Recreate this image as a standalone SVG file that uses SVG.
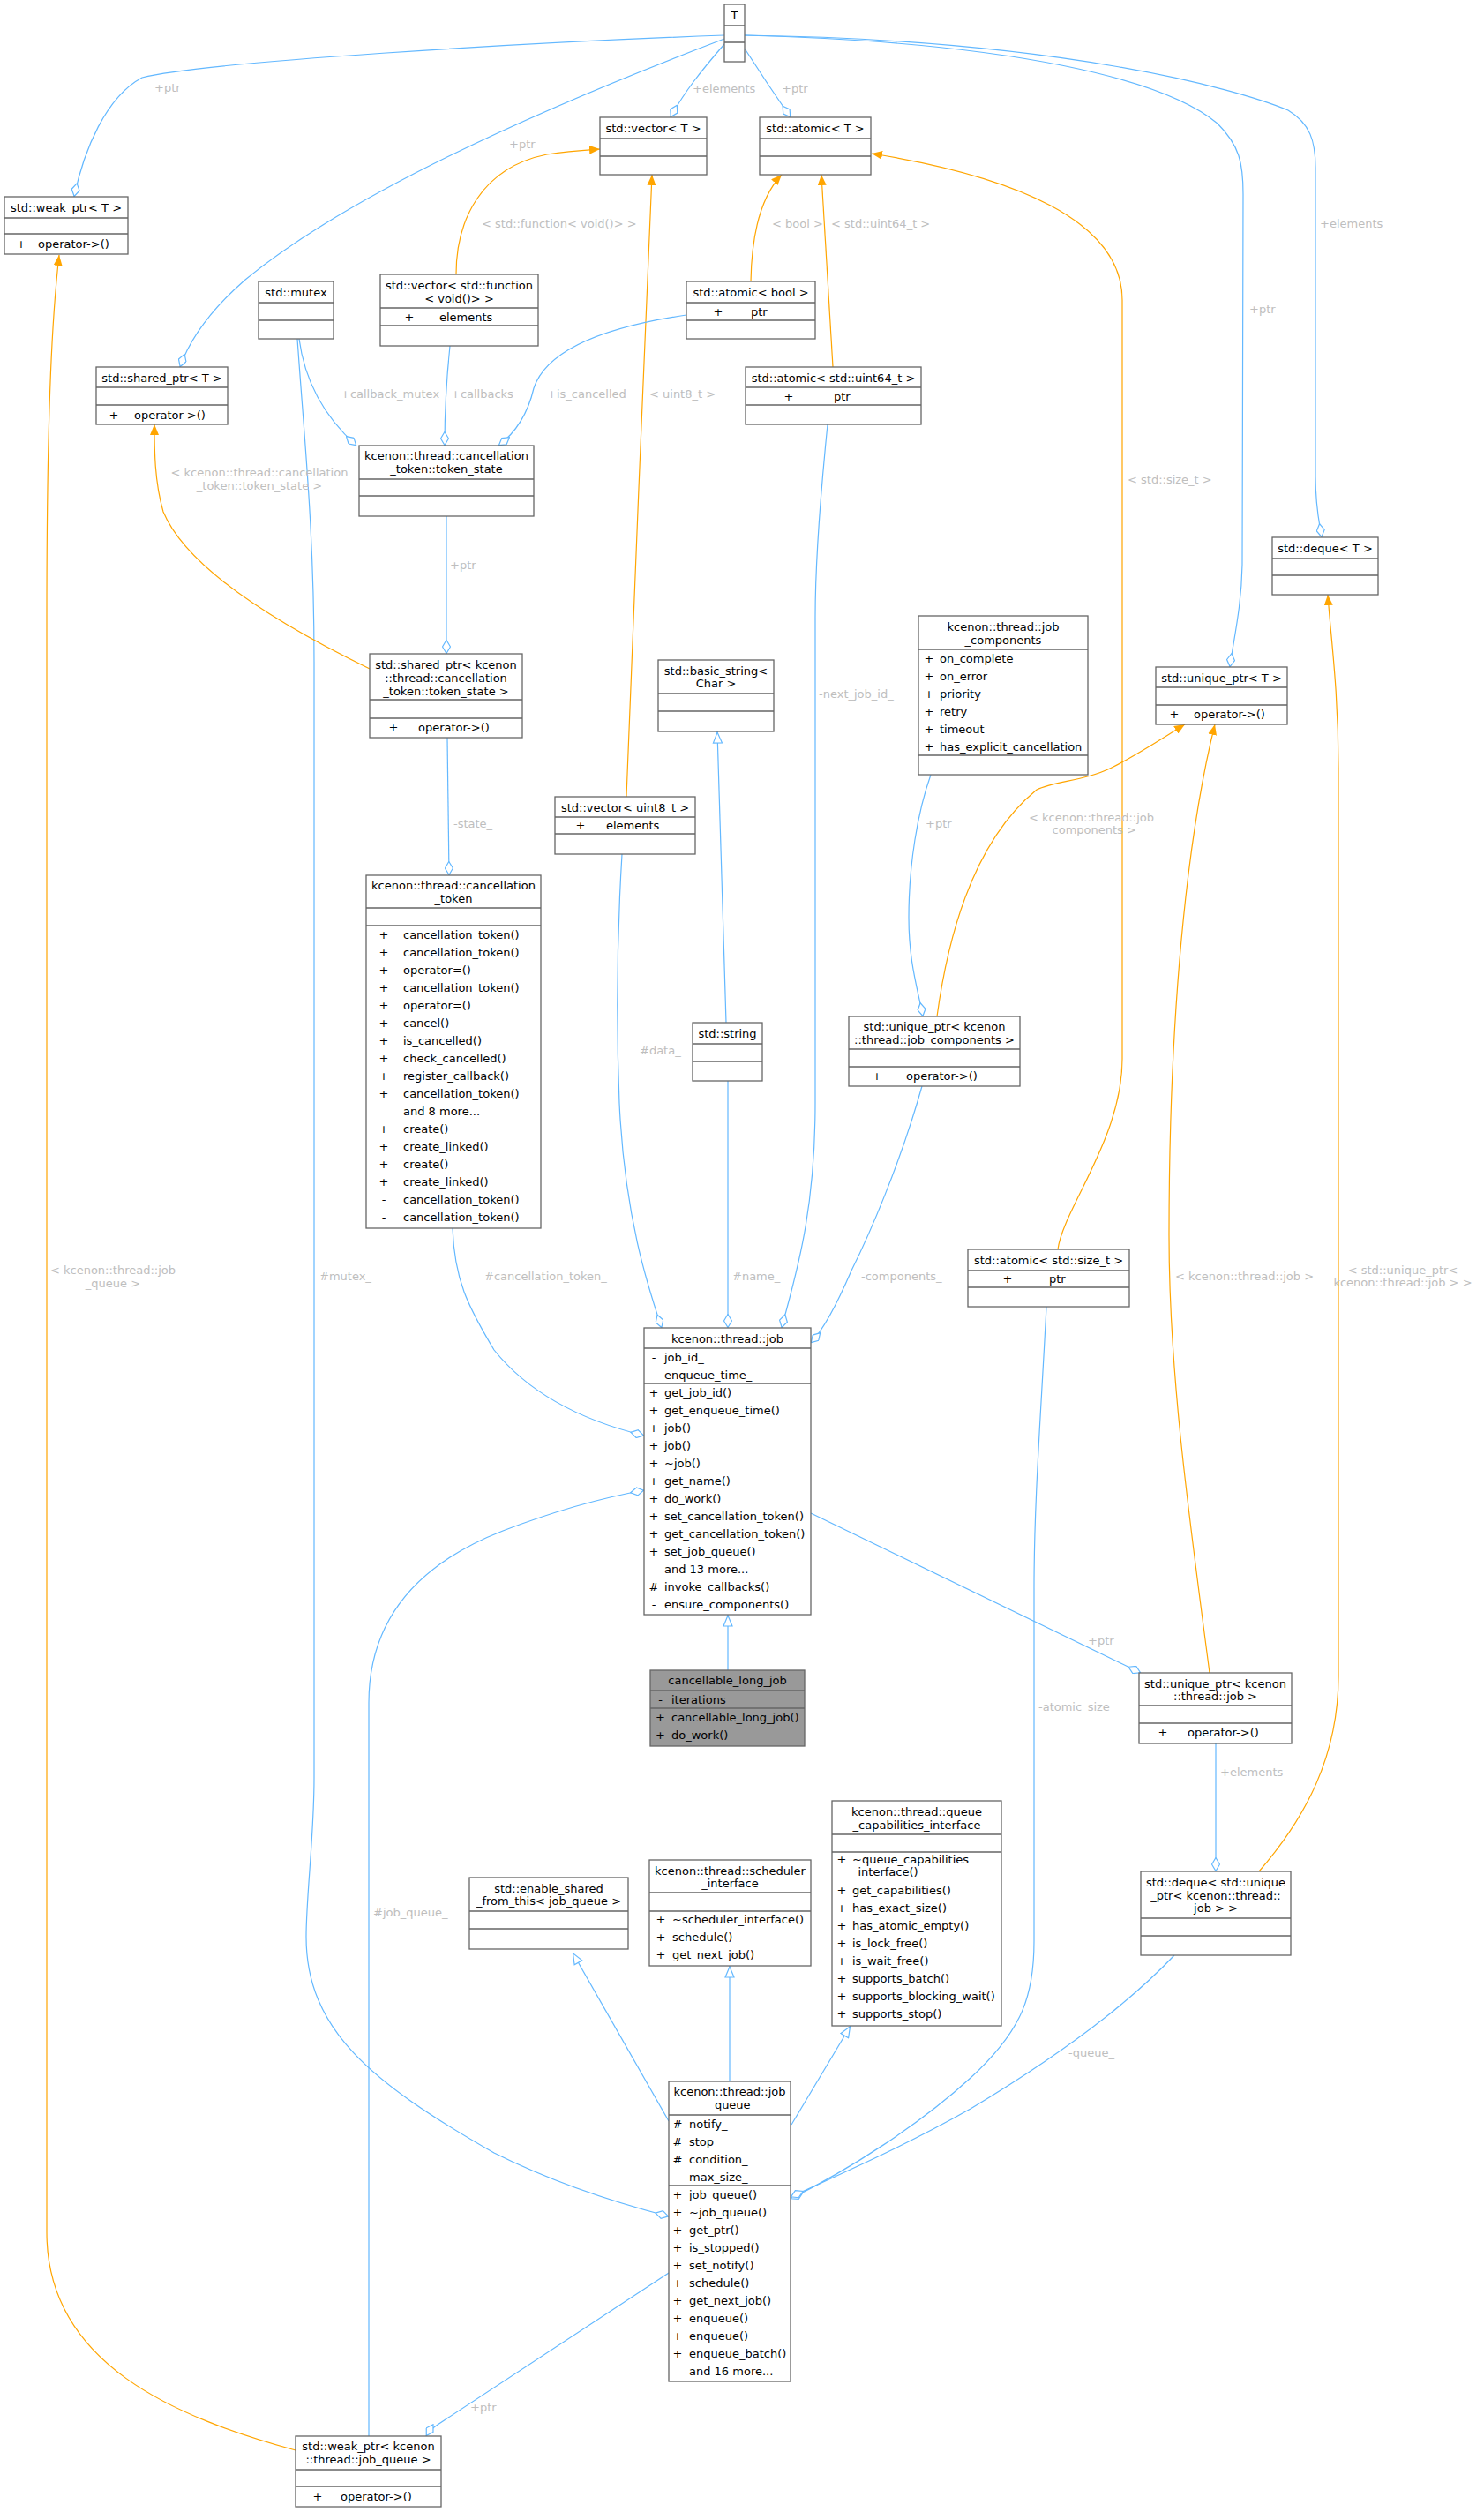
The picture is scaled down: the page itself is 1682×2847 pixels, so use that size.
<svg xmlns="http://www.w3.org/2000/svg" width="1682" height="2847" viewBox="0 0 1682 2847">
<style>
text{font-family:"DejaVu Sans","Liberation Sans",sans-serif;font-size:13px;fill:#000}
.t{text-anchor:middle}
.m{text-anchor:middle}
.l{fill:#bebebe}
.lc{fill:#bebebe;text-anchor:middle}
.n rect{fill:#fff;stroke:#666;stroke-width:1.3}
.n path{stroke:#666;stroke-width:1.3;fill:none}
.n rect.h{fill:#999}
#edges path{fill:none;stroke-width:1.2}
#edges .b{stroke:#63B8FF}
#edges .o{stroke:#FFA500}
</style>
<defs>
<marker id="d" viewBox="0 0 16 10" refX="16" refY="5" markerWidth="16" markerHeight="10" markerUnits="userSpaceOnUse" orient="auto"><path d="M0.5,5 L8,0.5 L15.5,5 L8,9.5Z" fill="#fff" stroke="#63B8FF" stroke-width="1.2"/></marker>
<marker id="a" viewBox="0 0 12 10" refX="12" refY="5" markerWidth="12" markerHeight="10" markerUnits="userSpaceOnUse" orient="auto"><path d="M0,0 L12,5 L0,10Z" fill="#FFA500"/></marker>
<marker id="tr" viewBox="0 0 14 12" refX="14" refY="6" markerWidth="14" markerHeight="12" markerUnits="userSpaceOnUse" orient="auto"><path d="M1,1 L13,6 L1,11Z" fill="#fff" stroke="#63B8FF" stroke-width="1.2"/></marker>
</defs>
<rect width="1682" height="2847" fill="#fff"/>
<g id="edges">
<path class="b" marker-end="url(#d)" d="M821,40 C600,48 230,70 161,88 C120,110 95,170 84,223"/>
<path class="b" marker-end="url(#d)" d="M821,44 C700,90 420,200 278,317 C240,350 215,385 204,416"/>
<path class="b" marker-end="url(#d)" d="M821,50 C795,80 775,105 760,133"/>
<path class="b" marker-end="url(#d)" d="M844,55 C860,80 880,110 896,133"/>
<path class="b" marker-end="url(#d)" d="M844,40 C1150,48 1320,90 1380,140 C1405,165 1409,185 1409,220 L1408,640 C1407,690 1398,725 1394,756"/>
<path class="b" marker-end="url(#d)" d="M844,40 C1200,45 1400,100 1460,125 C1485,140 1491,160 1491,190 L1491,540 C1491,575 1495,590 1498,609"/>
<path class="o" marker-end="url(#a)" d="M517,311 C517,250 545,190 620,175 C645,171 665,170 680,169"/>
<path class="o" marker-end="url(#a)" d="M710,903 C718,700 730,400 739,198"/>
<path class="o" marker-end="url(#a)" d="M851,319 C852,260 865,220 886,198"/>
<path class="o" marker-end="url(#a)" d="M944,416 L931,198"/>
<path class="o" marker-end="url(#a)" d="M1199,1416 C1205,1370 1272,1290 1272,1200 L1272,340 C1272,250 1150,200 988,174"/>
<path class="b" marker-end="url(#d)" d="M339,384 C345,430 365,470 404,505"/>
<path class="b" marker-end="url(#d)" d="M337,384 C345,500 356,600 356,750 L356,2015 C356,2080 347,2150 347,2195 C347,2300 420,2360 560,2440 C630,2475 700,2497 758,2512"/>
<path class="b" marker-end="url(#d)" d="M510,392 C506,430 504,470 504,505"/>
<path class="b" marker-end="url(#d)" d="M778,357 C690,370 620,395 605,440 C598,470 585,490 565,505"/>
<path class="b" marker-end="url(#d)" d="M506,585 L506,741"/>
<path class="o" marker-end="url(#a)" d="M419,758 C300,700 210,640 185,580 C175,545 175,510 175,481"/>
<path class="b" marker-end="url(#d)" d="M507,836 L509,992"/>
<path class="o" marker-end="url(#a)" d="M335,2777 C200,2740 53,2680 53,2530 L53,700 C53,450 60,350 67,289"/>
<path class="b" marker-end="url(#d)" d="M705,968 C700,1050 698,1150 702,1250 C708,1380 735,1460 750,1505"/>
<path class="b" marker-end="url(#d)" d="M825,1225 L825,1505"/>
<path class="b" marker-end="url(#tr)" d="M823,1159 L813,829"/>
<path class="b" marker-end="url(#d)" d="M938,481 C930,560 924,640 924,700 L924,1250 C924,1380 900,1450 886,1505"/>
<path class="b" marker-end="url(#d)" d="M1045,1231 C1020,1320 985,1400 965,1440 C950,1475 935,1505 919,1522"/>
<path class="b" marker-end="url(#d)" d="M1055,878 C1040,920 1030,980 1030,1040 C1030,1090 1040,1120 1046,1152"/>
<path class="o" marker-end="url(#a)" d="M1062,1152 C1080,1020 1120,940 1175,895 C1195,885 1230,885 1260,870 C1290,855 1320,835 1343,821"/>
<path class="b" marker-end="url(#d)" d="M513,1392 C515,1450 530,1480 560,1530 C600,1580 660,1610 730,1627"/>
<path class="b" marker-end="url(#tr)" d="M825,1893 L825,1830"/>
<path class="b" marker-end="url(#d)" d="M919,1715 L1293,1896"/>
<path class="b" marker-end="url(#d)" d="M418,2761 L418,1930 C418,1830 480,1770 570,1735 C630,1712 680,1698 730,1689"/>
<path class="b" marker-end="url(#d)" d="M758,2576 L496,2748 C490,2752 486,2756 483,2761"/>
<path class="b" marker-end="url(#tr)" d="M758,2404 L649,2213"/>
<path class="b" marker-end="url(#tr)" d="M827,2359 L827,2228"/>
<path class="b" marker-end="url(#tr)" d="M897,2408 L964,2296"/>
<path class="b" marker-end="url(#d)" d="M1186,1481 C1180,1600 1172,1700 1172,1800 L1172,2200 C1172,2260 1160,2300 1100,2355 C1040,2410 960,2460 896,2492"/>
<path class="b" marker-end="url(#d)" d="M1331,2216 C1280,2270 1200,2330 1100,2390 C1020,2435 950,2465 896,2490"/>
<path class="b" marker-end="url(#d)" d="M1378,1976 L1378,2121"/>
<path class="o" marker-end="url(#a)" d="M1371,1896 C1345,1700 1325,1550 1325,1400 C1325,1150 1345,950 1377,821"/>
<path class="o" marker-end="url(#a)" d="M1427,2121 C1480,2060 1517,1990 1517,1900 L1517,870 C1517,780 1508,720 1505,674"/>
<text class="l" x="175" y="104">+ptr</text>
<text class="l" x="577" y="168">+ptr</text>
<text class="l" x="785" y="105">+elements</text>
<text class="l" x="886" y="105">+ptr</text>
<text class="l" x="1416" y="355">+ptr</text>
<text class="l" x="1496" y="258">+elements</text>
<text class="l" x="546" y="258">&lt; std::function&lt; void()&gt; &gt;</text>
<text class="l" x="736" y="451">&lt; uint8_t &gt;</text>
<text class="l" x="875" y="258">&lt; bool &gt;</text>
<text class="l" x="942" y="258">&lt; std::uint64_t &gt;</text>
<text class="l" x="1278" y="548">&lt; std::size_t &gt;</text>
<text class="l" x="386" y="451">+callback_mutex</text>
<text class="l" x="362" y="1451">#mutex_</text>
<text class="l" x="511" y="451">+callbacks</text>
<text class="l" x="620" y="451">+is_cancelled</text>
<text class="l" x="510" y="645">+ptr</text>
<text class="lc" x="294" y="540">&lt; kcenon::thread::cancellation</text>
<text class="lc" x="294" y="555">_token::token_state &gt;</text>
<text class="l" x="514" y="938">-state_</text>
<text class="lc" x="128" y="1444">&lt; kcenon::thread::job</text>
<text class="lc" x="128" y="1459">_queue &gt;</text>
<text class="l" x="725" y="1195">#data_</text>
<text class="l" x="830" y="1451">#name_</text>
<text class="l" x="928" y="791">-next_job_id_</text>
<text class="l" x="976" y="1451">-components_</text>
<text class="l" x="1049" y="938">+ptr</text>
<text class="lc" x="1237" y="931">&lt; kcenon::thread::job</text>
<text class="lc" x="1237" y="945">_components &gt;</text>
<text class="l" x="549" y="1451">#cancellation_token_</text>
<text class="l" x="1233" y="1864">+ptr</text>
<text class="l" x="423" y="2172">#job_queue_</text>
<text class="l" x="533" y="2733">+ptr</text>
<text class="l" x="1177" y="1939">-atomic_size_</text>
<text class="l" x="1211" y="2331">-queue_</text>
<text class="l" x="1383" y="2013">+elements</text>
<text class="l" x="1332" y="1451">&lt; kcenon::thread::job &gt;</text>
<text class="lc" x="1590" y="1444">&lt; std::unique_ptr&lt;</text>
<text class="lc" x="1590" y="1458">kcenon::thread::job &gt; &gt;</text>
</g>
<g id="nT" class="n"><rect x="821" y="5" width="23" height="65"/><path d="M821,29H844M821,48H844"/><text class="t" x="832.5" y="22">T</text></g>
<g id="nVecT" class="n"><rect x="680" y="133" width="121" height="65"/><path d="M680,157H801M680,177H801"/><text class="t" x="740.5" y="150">std::vector&lt; T &gt;</text></g>
<g id="nAtomT" class="n"><rect x="861" y="133" width="126" height="65"/><path d="M861,157H987M861,177H987"/><text class="t" x="924" y="150">std::atomic&lt; T &gt;</text></g>
<g id="nWeakT" class="n"><rect x="5" y="223" width="140" height="65"/><path d="M5,247H145M5,265H145"/><text class="t" x="75" y="240">std::weak_ptr&lt; T &gt;</text><text class="m" x="24" y="281">+</text><text x="43" y="281">operator-&gt;()</text></g>
<g id="nMutex" class="n"><rect x="293" y="319" width="85" height="65"/><path d="M293,343H378M293,363H378"/><text class="t" x="335.5" y="336">std::mutex</text></g>
<g id="nVecFn" class="n"><rect x="431" y="311" width="179" height="81"/><path d="M431,349H610M431,369H610"/><text class="t" x="520.5" y="327.5">std::vector&lt; std::function</text><text class="t" x="520.5" y="342.5">&lt; void()&gt; &gt;</text><text class="m" x="464" y="363.5">+</text><text x="498" y="363.5">elements</text></g>
<g id="nAtomBool" class="n"><rect x="778" y="319" width="146" height="65"/><path d="M778,343H924M778,363H924"/><text class="t" x="851" y="336">std::atomic&lt; bool &gt;</text><text class="m" x="814" y="357.5">+</text><text x="851" y="357.5">ptr</text></g>
<g id="nSharedT" class="n"><rect x="109" y="416" width="149" height="65"/><path d="M109,439H258M109,459H258"/><text class="t" x="183.5" y="433">std::shared_ptr&lt; T &gt;</text><text class="m" x="129" y="474.5">+</text><text x="152" y="474.5">operator-&gt;()</text></g>
<g id="nAtomU64" class="n"><rect x="845" y="416" width="199" height="65"/><path d="M845,439H1044M845,459H1044"/><text class="t" x="944.5" y="433">std::atomic&lt; std::uint64_t &gt;</text><text class="m" x="894" y="453.5">+</text><text x="945" y="453.5">ptr</text></g>
<g id="nTokState" class="n"><rect x="407" y="505" width="198" height="80"/><path d="M407,543H605M407,562H605"/><text class="t" x="506" y="521">kcenon::thread::cancellation</text><text class="t" x="506" y="535.5">_token::token_state</text></g>
<g id="nSharedTok" class="n"><rect x="419" y="741" width="173" height="95"/><path d="M419,793H592M419,814H592"/><text class="t" x="505.5" y="758">std::shared_ptr&lt; kcenon</text><text class="t" x="505.5" y="772.5">::thread::cancellation</text><text class="t" x="505.5" y="787.5">_token::token_state &gt;</text><text class="m" x="446" y="829">+</text><text x="474" y="829">operator-&gt;()</text></g>
<g id="nCancelTok" class="n"><rect x="415" y="992" width="198" height="400"/><path d="M415,1029H613M415,1049H613"/><text class="t" x="514" y="1007.5">kcenon::thread::cancellation</text><text class="t" x="514" y="1022.5">_token</text>
<text class="m" x="435" y="1063.5">+</text><text x="457" y="1063.5">cancellation_token()</text>
<text class="m" x="435" y="1083.5">+</text><text x="457" y="1083.5">cancellation_token()</text>
<text class="m" x="435" y="1103.5">+</text><text x="457" y="1103.5">operator=()</text>
<text class="m" x="435" y="1123.5">+</text><text x="457" y="1123.5">cancellation_token()</text>
<text class="m" x="435" y="1143.5">+</text><text x="457" y="1143.5">operator=()</text>
<text class="m" x="435" y="1163.5">+</text><text x="457" y="1163.5">cancel()</text>
<text class="m" x="435" y="1183.5">+</text><text x="457" y="1183.5">is_cancelled()</text>
<text class="m" x="435" y="1203.5">+</text><text x="457" y="1203.5">check_cancelled()</text>
<text class="m" x="435" y="1223.5">+</text><text x="457" y="1223.5">register_callback()</text>
<text class="m" x="435" y="1243.5">+</text><text x="457" y="1243.5">cancellation_token()</text>
<text x="457" y="1263.5">and 8 more...</text>
<text class="m" x="435" y="1283.5">+</text><text x="457" y="1283.5">create()</text>
<text class="m" x="435" y="1303.5">+</text><text x="457" y="1303.5">create_linked()</text>
<text class="m" x="435" y="1323.5">+</text><text x="457" y="1323.5">create()</text>
<text class="m" x="435" y="1343.5">+</text><text x="457" y="1343.5">create_linked()</text>
<text class="m" x="435" y="1363.5">-</text><text x="457" y="1363.5">cancellation_token()</text>
<text class="m" x="435" y="1383.5">-</text><text x="457" y="1383.5">cancellation_token()</text></g>
<g id="nVecU8" class="n"><rect x="629" y="903" width="159" height="65"/><path d="M629,926H788M629,945H788"/><text class="t" x="708.5" y="920">std::vector&lt; uint8_t &gt;</text><text class="m" x="658" y="940">+</text><text x="687" y="940">elements</text></g>
<g id="nBasicStr" class="n"><rect x="746" y="748" width="131" height="81"/><path d="M746,786H877M746,806H877"/><text class="t" x="811.5" y="764.5">std::basic_string&lt;</text><text class="t" x="811.5" y="779">Char &gt;</text></g>
<g id="nString" class="n"><rect x="785" y="1159" width="79" height="66"/><path d="M785,1183H864M785,1203H864"/><text class="t" x="824.5" y="1176">std::string</text></g>
<g id="nJobComp" class="n"><rect x="1041" y="698" width="192" height="180"/><path d="M1041,736H1233M1041,856H1233"/><text class="t" x="1137" y="714.5">kcenon::thread::job</text><text class="t" x="1137" y="729.5">_components</text>
<text class="m" x="1053" y="750.5">+</text><text x="1065" y="750.5">on_complete</text>
<text class="m" x="1053" y="770.5">+</text><text x="1065" y="770.5">on_error</text>
<text class="m" x="1053" y="790.5">+</text><text x="1065" y="790.5">priority</text>
<text class="m" x="1053" y="810.5">+</text><text x="1065" y="810.5">retry</text>
<text class="m" x="1053" y="830.5">+</text><text x="1065" y="830.5">timeout</text>
<text class="m" x="1053" y="850.5">+</text><text x="1065" y="850.5">has_explicit_cancellation</text></g>
<g id="nUniqJC" class="n"><rect x="962" y="1152" width="194" height="79"/><path d="M962,1189H1156M962,1209H1156"/><text class="t" x="1059" y="1167.5">std::unique_ptr&lt; kcenon</text><text class="t" x="1059" y="1182.5">::thread::job_components &gt;</text><text class="m" x="994" y="1224">+</text><text x="1027" y="1224">operator-&gt;()</text></g>
<g id="nUniqT" class="n"><rect x="1310" y="756" width="149" height="65"/><path d="M1310,779H1459M1310,799H1459"/><text class="t" x="1384.5" y="772.5">std::unique_ptr&lt; T &gt;</text><text class="m" x="1331" y="814">+</text><text x="1353" y="814">operator-&gt;()</text></g>
<g id="nDequeT" class="n"><rect x="1442" y="609" width="120" height="65"/><path d="M1442,633H1562M1442,652H1562"/><text class="t" x="1502" y="626">std::deque&lt; T &gt;</text></g>
<g id="nAtomSize" class="n"><rect x="1097" y="1416" width="183" height="65"/><path d="M1097,1440H1280M1097,1459H1280"/><text class="t" x="1188.5" y="1432.5">std::atomic&lt; std::size_t &gt;</text><text class="m" x="1142" y="1454">+</text><text x="1189" y="1454">ptr</text></g>
<g id="nJob" class="n"><rect x="730" y="1505" width="189" height="325"/><path d="M730,1528H919M730,1568H919"/><text class="t" x="824.5" y="1521.5">kcenon::thread::job</text>
<text class="m" x="741" y="1542.5">-</text><text x="753" y="1542.5">job_id_</text>
<text class="m" x="741" y="1562.5">-</text><text x="753" y="1562.5">enqueue_time_</text>
<text class="m" x="741" y="1582.5">+</text><text x="753" y="1582.5">get_job_id()</text>
<text class="m" x="741" y="1602.5">+</text><text x="753" y="1602.5">get_enqueue_time()</text>
<text class="m" x="741" y="1622.5">+</text><text x="753" y="1622.5">job()</text>
<text class="m" x="741" y="1642.5">+</text><text x="753" y="1642.5">job()</text>
<text class="m" x="741" y="1662.5">+</text><text x="753" y="1662.5">~job()</text>
<text class="m" x="741" y="1682.5">+</text><text x="753" y="1682.5">get_name()</text>
<text class="m" x="741" y="1702.5">+</text><text x="753" y="1702.5">do_work()</text>
<text class="m" x="741" y="1722.5">+</text><text x="753" y="1722.5">set_cancellation_token()</text>
<text class="m" x="741" y="1742.5">+</text><text x="753" y="1742.5">get_cancellation_token()</text>
<text class="m" x="741" y="1762.5">+</text><text x="753" y="1762.5">set_job_queue()</text>
<text x="753" y="1782.5">and 13 more...</text>
<text class="m" x="741" y="1802.5">#</text><text x="753" y="1802.5">invoke_callbacks()</text>
<text class="m" x="741" y="1822.5">-</text><text x="753" y="1822.5">ensure_components()</text></g>
<g id="nCancellable" class="n"><rect class="h" x="737" y="1893" width="175" height="86"/><path d="M737,1916H912M737,1936H912"/><text class="t" x="824.5" y="1909">cancellable_long_job</text>
<text class="m" x="748.5" y="1930.5">-</text><text x="761" y="1930.5">iterations_</text>
<text class="m" x="748.5" y="1950.5">+</text><text x="761" y="1950.5">cancellable_long_job()</text>
<text class="m" x="748.5" y="1970.5">+</text><text x="761" y="1970.5">do_work()</text></g>
<g id="nUniqJob" class="n"><rect x="1291" y="1896" width="173" height="80"/><path d="M1291,1933H1464M1291,1953H1464"/><text class="t" x="1377.5" y="1912.5">std::unique_ptr&lt; kcenon</text><text class="t" x="1377.5" y="1926.5">::thread::job &gt;</text><text class="m" x="1318" y="1968">+</text><text x="1346" y="1968">operator-&gt;()</text></g>
<g id="nDequeUJ" class="n"><rect x="1293" y="2121" width="170" height="95"/><path d="M1293,2174H1463M1293,2194H1463"/><text class="t" x="1378" y="2137.5">std::deque&lt; std::unique</text><text class="t" x="1378" y="2152.5">_ptr&lt; kcenon::thread::</text><text class="t" x="1378" y="2167">job &gt; &gt;</text></g>
<g id="nQueueCap" class="n"><rect x="943" y="2041" width="192" height="255"/><path d="M943,2079H1135M943,2099H1135"/><text class="t" x="1039" y="2057.5">kcenon::thread::queue</text><text class="t" x="1039" y="2072.5">_capabilities_interface</text>
<text class="m" x="954" y="2111.5">+</text><text x="966" y="2111.5">~queue_capabilities</text>
<text x="966" y="2126">_interface()</text>
<text class="m" x="954" y="2146.5">+</text><text x="966" y="2146.5">get_capabilities()</text>
<text class="m" x="954" y="2166.5">+</text><text x="966" y="2166.5">has_exact_size()</text>
<text class="m" x="954" y="2186.5">+</text><text x="966" y="2186.5">has_atomic_empty()</text>
<text class="m" x="954" y="2206.5">+</text><text x="966" y="2206.5">is_lock_free()</text>
<text class="m" x="954" y="2226.5">+</text><text x="966" y="2226.5">is_wait_free()</text>
<text class="m" x="954" y="2246.5">+</text><text x="966" y="2246.5">supports_batch()</text>
<text class="m" x="954" y="2266.5">+</text><text x="966" y="2266.5">supports_blocking_wait()</text>
<text class="m" x="954" y="2286.5">+</text><text x="966" y="2286.5">supports_stop()</text></g>
<g id="nSched" class="n"><rect x="736" y="2108" width="183" height="120"/><path d="M736,2145H919M736,2166H919"/><text class="t" x="827.5" y="2124.5">kcenon::thread::scheduler</text><text class="t" x="827.5" y="2138.5">_interface</text>
<text class="m" x="749" y="2179.5">+</text><text x="762" y="2179.5">~scheduler_interface()</text>
<text class="m" x="749" y="2199.5">+</text><text x="762" y="2199.5">schedule()</text>
<text class="m" x="749" y="2219.5">+</text><text x="762" y="2219.5">get_next_job()</text></g>
<g id="nEnableShared" class="n"><rect x="532" y="2128" width="180" height="81"/><path d="M532,2166H712M532,2186H712"/><text class="t" x="622" y="2144.5">std::enable_shared</text><text class="t" x="622" y="2159">_from_this&lt; job_queue &gt;</text></g>
<g id="nJobQueue" class="n"><rect x="758" y="2359" width="138" height="340"/><path d="M758,2397H896M758,2477H896"/><text class="t" x="827" y="2374.5">kcenon::thread::job</text><text class="t" x="827" y="2389.5">_queue</text>
<text class="m" x="768" y="2411.5">#</text><text x="781" y="2411.5">notify_</text>
<text class="m" x="768" y="2431.5">#</text><text x="781" y="2431.5">stop_</text>
<text class="m" x="768" y="2451.5">#</text><text x="781" y="2451.5">condition_</text>
<text class="m" x="768" y="2471.5">-</text><text x="781" y="2471.5">max_size_</text>
<text class="m" x="768" y="2491.5">+</text><text x="781" y="2491.5">job_queue()</text>
<text class="m" x="768" y="2511.5">+</text><text x="781" y="2511.5">~job_queue()</text>
<text class="m" x="768" y="2531.5">+</text><text x="781" y="2531.5">get_ptr()</text>
<text class="m" x="768" y="2551.5">+</text><text x="781" y="2551.5">is_stopped()</text>
<text class="m" x="768" y="2571.5">+</text><text x="781" y="2571.5">set_notify()</text>
<text class="m" x="768" y="2591.5">+</text><text x="781" y="2591.5">schedule()</text>
<text class="m" x="768" y="2611.5">+</text><text x="781" y="2611.5">get_next_job()</text>
<text class="m" x="768" y="2631.5">+</text><text x="781" y="2631.5">enqueue()</text>
<text class="m" x="768" y="2651.5">+</text><text x="781" y="2651.5">enqueue()</text>
<text class="m" x="768" y="2671.5">+</text><text x="781" y="2671.5">enqueue_batch()</text>
<text x="781" y="2691.5">and 16 more...</text></g>
<g id="nWeakJQ" class="n"><rect x="335" y="2761" width="165" height="80"/><path d="M335,2799H500M335,2818H500"/><text class="t" x="417.5" y="2776.5">std::weak_ptr&lt; kcenon</text><text class="t" x="417.5" y="2791.5">::thread::job_queue &gt;</text><text class="m" x="360" y="2833.5">+</text><text x="386" y="2833.5">operator-&gt;()</text></g>
</svg>
